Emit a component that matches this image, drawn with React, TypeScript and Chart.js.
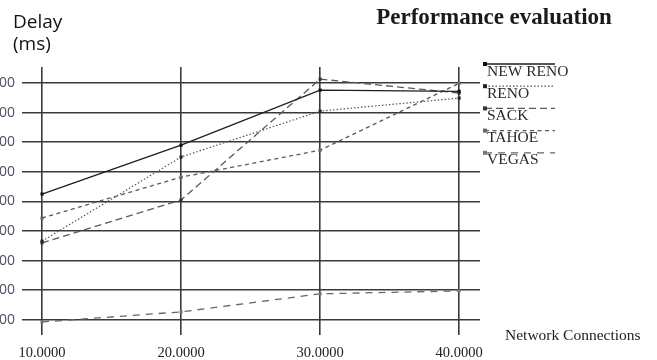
import { useEffect, useRef } from "react";
import { Chart, registerables } from "chart.js";

Chart.register(...registerables);

const connections = [10, 20, 30, 40];
const newReno = [525, 690, 876, 872];
const reno = [366, 650, 805, 849];
const sack = [360, 505, 913, 866];
const tahoe = [444, 582, 673, 899];
const vegas = [93, 127, 188, 198];
const seriesNames = ["NEW RENO", "RENO", "SACK", "TAHOE", "VEGAS"];
const xTicks = [10, 20, 30, 40];
const yTicks = [100, 200, 300, 400, 500, 600, 700, 800, 900];
const titleText = "Performance evaluation";
const yAxisTitle = ["Delay", "(ms)"];
const xAxisTitle = "Network Connections";

const seriesValues = [newReno, reno, sack, tahoe, vegas];
const seriesColors = ["#1e1e1e", "#555555", "#5a5a5a", "#5a5a5a", "#666666"];
const seriesPointColors = ["#111111", "#222222", "#333333", "#666666", "#777777"];
const seriesDashes: number[][] = [[], [1.5, 2], [7, 4], [4, 3.5], [7, 6]];
const seriesWidths = [1.3, 1.2, 1.3, 1.3, 1.3];

const textPlugin = {
  id: "textPlugin",
  afterDraw(chart: any) {
    const ctx = chart.ctx;
    ctx.save();
    // title
    ctx.fillStyle = "#1a1a1a";
    ctx.font = "bold 23px 'Liberation Serif', 'DejaVu Serif', serif";
    ctx.textAlign = "center";
    ctx.textBaseline = "middle";
    ctx.fillText(titleText, 494, 18);
    // y axis title
    ctx.font = "19px 'Open Sans', 'Noto Sans', sans-serif";
    ctx.textAlign = "left";
    ctx.textBaseline = "alphabetic";
    ctx.fillStyle = "#111111";
    ctx.fillText(yAxisTitle[0], 13, 28);
    ctx.fillText(yAxisTitle[1], 13, 50);
    // x axis title
    ctx.font = "15.5px 'Liberation Serif', serif";
    ctx.fillStyle = "#222222";
    ctx.textBaseline = "middle";
    ctx.fillText(xAxisTitle, 505, 336);
    // legend
    chart.data.datasets.forEach((ds: any, i: number) => {
      const ly = 64 + i * 22.2;
      ctx.save();
      ctx.strokeStyle = ds.borderColor;
      ctx.lineWidth = ds.borderWidth;
      ctx.setLineDash(ds.borderDash || []);
      ctx.beginPath();
      ctx.moveTo(485, ly);
      ctx.lineTo(555, ly);
      ctx.stroke();
      ctx.restore();
      ctx.fillStyle = ds.pointBackgroundColor;
      ctx.fillRect(483, ly - 2, 4, 4);
      ctx.fillStyle = "#2a2a2a";
      ctx.font = "15.5px 'Liberation Serif', serif";
      ctx.textAlign = "left";
      ctx.textBaseline = "middle";
      ctx.fillText(ds.label, 487, ly + 7.5);
    });
    ctx.restore();
  },
};

export default function App() {
  const ref = useRef<HTMLCanvasElement | null>(null);
  useEffect(() => {
    if (!ref.current) return;
    const chart = new Chart(ref.current, {
      type: "line",
      data: {
        datasets: seriesNames.map((name, i) => ({
          label: name,
          data: connections.map((c, j) => ({ x: c, y: seriesValues[i][j] })),
          borderColor: seriesColors[i],
          borderWidth: seriesWidths[i],
          borderDash: seriesDashes[i],
          pointStyle: "rect",
          pointRadius: 2.2,
          pointBackgroundColor: seriesPointColors[i],
          pointBorderColor: seriesPointColors[i],
          pointBorderWidth: 0,
          tension: 0,
          fill: false,
        })),
      },
      options: {
        animation: false,
        responsive: false,
        layout: { padding: { top: 67, right: 177, left: 0, bottom: 0 } },
        plugins: { legend: { display: false }, title: { display: false }, tooltip: { enabled: false } },
        scales: {
          x: {
            type: "linear",
            min: 8.56,
            max: 41.5,
            afterBuildTicks: (scale: any) => {
              scale.ticks = xTicks.map((v) => ({ value: v }));
            },
            afterFit: (scale: any) => {
              scale.height = 25;
            },
            border: { display: false },
            grid: { color: "#3a3a3a", lineWidth: 1.6, drawTicks: false },
            ticks: {
              padding: 9,
              color: "#222222",
              font: { family: "'Liberation Serif', serif", size: 14.5 },
              callback: (v: any) => Number(v).toFixed(4),
              maxRotation: 0,
            },
          },
          y: {
            type: "linear",
            min: 49,
            max: 954,
            afterBuildTicks: (scale: any) => {
              scale.ticks = yTicks.map((v) => ({ value: v }));
            },
            afterFit: (scale: any) => {
              scale.width = 22;
            },
            border: { display: false },
            grid: { color: "#3a3a3a", lineWidth: 1.6, drawTicks: false },
            ticks: {
              padding: 7,
              color: "#4a5060",
              font: { family: "'Open Sans', sans-serif", size: 14 },
              callback: (v: any) => String(v),
            },
          },
        },
      },
      plugins: [textPlugin],
    });
    return () => chart.destroy();
  }, []);
  return (
    <canvas
      ref={ref}
      width={657}
      height={360}
      style={{ position: "fixed", left: 0, top: 0, width: 657, height: 360, display: "block", background: "#fff" }}
    />
  );
}
